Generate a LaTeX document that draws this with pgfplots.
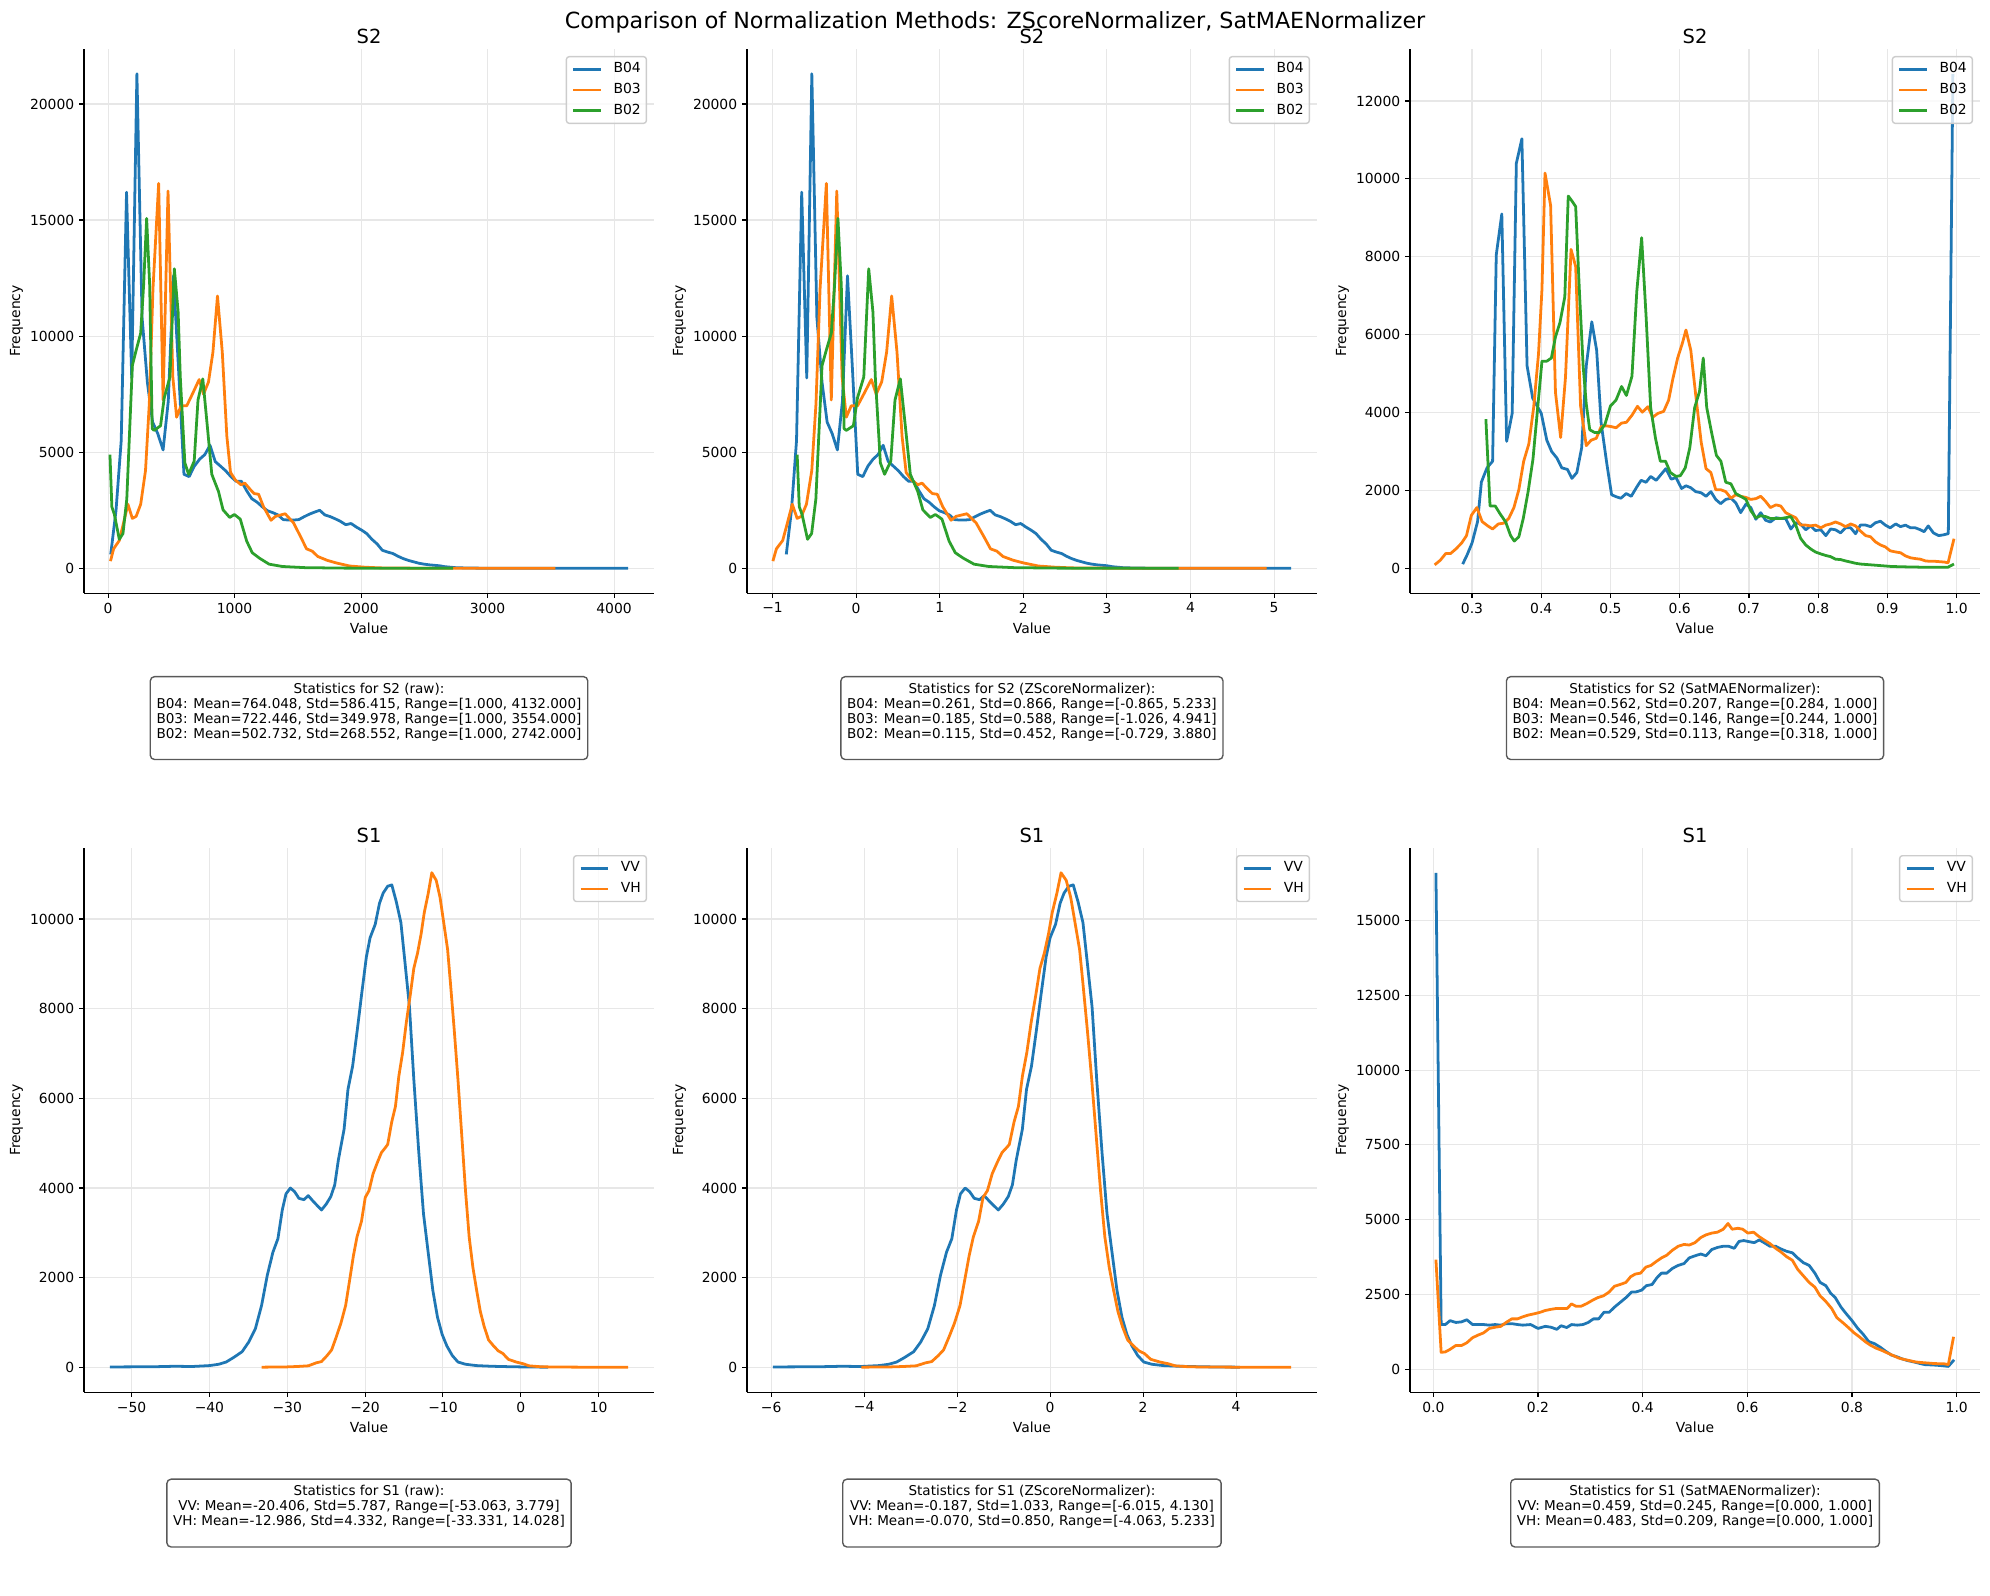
\documentclass[border=0pt]{standalone}
\usepackage{fontspec}
\setmainfont{DejaVu Sans}
\usepackage{pgfplots}
\usepackage{pgfplotstable}
\pgfplotsset{compat=1.18}

\definecolor{tabblue}{HTML}{1F77B4}
\definecolor{taborange}{HTML}{FF7F0E}
\definecolor{tabgreen}{HTML}{2CA02C}
\definecolor{gridgray}{RGB}{231,231,231}
\definecolor{legframe}{RGB}{204,204,204}

% ---------------- S2, raw values (bin centre, count) ----------------
\pgfplotstableread{
x y
21 600
63 2500
104 5500
146 16200
187 8200
228 21300
269 10800
311 8000
352 6300
393 5800
435 5100
476 7200
517 12600
558 8500
600 4050
641 3950
682 4400
724 4700
765 4900
806 5300
847 4600
889 4400
930 4200
971 3950
1012 3750
1054 3750
1095 3350
1136 3000
1178 2850
1219 2650
1260 2480
1302 2400
1343 2300
1384 2100
1425 2080
1467 2080
1508 2100
1549 2220
1590 2330
1632 2420
1673 2500
1714 2300
1755 2230
1797 2130
1838 2020
1879 1880
1921 1930
1962 1780
2003 1650
2044 1500
2086 1250
2127 1050
2168 780
2210 700
2251 640
2292 520
2333 420
2375 340
2416 280
2457 220
2498 180
2540 150
2581 130
2622 110
2663 70
2705 50
2746 30
2800 20
2900 10
3000 5
3500 1
4111 1
}\sTwoBfour

\pgfplotstableread{
x y
19 310
44 840
89 1200
120 1900
157 2760
192 2150
222 2240
258 2760
296 4210
326 7090
355 12030
400 16580
435 7250
474 16250
512 8240
542 6510
577 7000
622 7000
666 7500
720 8130
755 7500
794 8030
829 9310
865 11730
903 9310
939 5690
968 4130
1007 3800
1051 3600
1081 3670
1125 3390
1155 3220
1190 3190
1229 2650
1288 2070
1324 2240
1400 2350
1466 1960
1525 1330
1569 840
1614 740
1658 510
1732 345
1806 230
1910 100
2028 50
2147 20
2400 8
2800 3
3536 1
}\sTwoBthree

\pgfplotstableread{
x y
15 4900
30 2650
50 2320
89 1250
118 1500
148 2980
192 8730
222 9390
258 10130
281 12190
305 15070
329 12190
349 6020
364 5940
415 6140
444 7340
489 8240
524 12900
554 11040
571 8240
607 4540
637 4050
681 4620
711 7250
749 8160
785 6100
820 4050
873 3310
909 2520
962 2190
998 2320
1045 2120
1096 1170
1140 670
1199 430
1273 180
1377 80
1555 30
1850 10
2200 3
2728 1
}\sTwoBtwo

% ---------------- S2, SatMAE-normalised ----------------
\pgfplotstableread{
x y
0.2865 108
0.293 350
0.300 650
0.308 1200
0.3135 2215
0.3216 2580
0.3297 2750
0.335 8050
0.343 9100
0.350 3260
0.358 3980
0.364 10400
0.372 11030
0.3795 5200
0.3876 4370
0.400 3980
0.408 3290
0.415 3000
0.4227 2830
0.4297 2580
0.4378 2540
0.4443 2310
0.4514 2460
0.4584 3100
0.465 5200
0.473 6330
0.480 5600
0.4865 3730
0.4946 2700
0.5016 1890
0.508 1840
0.515 1800
0.5227 1920
0.530 1850
0.538 2090
0.5443 2260
0.5514 2210
0.558 2360
0.566 2260
0.573 2410
0.580 2560
0.5876 2290
0.5946 2330
0.6027 2050
0.609 2120
0.616 2070
0.623 1970
0.631 1940
0.638 1850
0.645 1970
0.652 1770
0.659 1660
0.6665 1770
0.674 1800
0.681 1680
0.688 1430
0.6957 1650
0.7027 1560
0.710 1260
0.717 1430
0.724 1235
0.731 1190
0.739 1300
0.746 1280
0.753 1280
0.7605 1010
0.7676 1170
0.7746 1140
0.782 990
0.789 1090
0.796 970
0.8038 990
0.811 840
0.818 1010
0.825 990
0.8324 910
0.8395 1040
0.847 1040
0.854 890
0.861 1110
0.8686 1110
0.8757 1070
0.8827 1170
0.890 1210
0.897 1110
0.904 1040
0.912 1140
0.919 1070
0.926 1110
0.9335 1040
0.9405 1040
0.9476 990
0.953 940
0.959 1090
0.9665 910
0.974 840
0.981 860
0.988 890
0.9946 12700
}\satBfour

\pgfplotstableread{
x y
0.246 90
0.254 205
0.262 380
0.269 380
0.2768 500
0.285 650
0.292 840
0.299 1360
0.307 1560
0.3146 1200
0.3227 1090
0.3297 1010
0.338 1140
0.346 1160
0.353 1280
0.3605 1560
0.3676 2020
0.3746 2750
0.382 3190
0.389 4130
0.396 5500
0.401 7160
0.4054 10150
0.4135 9320
0.4205 4520
0.428 3360
0.435 4910
0.443 8190
0.4497 7750
0.4568 4170
0.465 3150
0.472 3290
0.4795 3340
0.4865 3640
0.4935 3660
0.501 3640
0.508 3610
0.516 3730
0.523 3750
0.531 3930
0.539 4160
0.546 4010
0.554 4150
0.561 3880
0.5686 3980
0.5768 4030
0.584 4320
0.590 4860
0.597 5400
0.604 5790
0.609 6120
0.616 5600
0.623 4470
0.631 3240
0.638 2560
0.645 2460
0.652 2020
0.659 2020
0.6665 1970
0.674 1800
0.681 1890
0.688 1850
0.6957 1820
0.7027 1770
0.710 1790
0.717 1850
0.724 1720
0.731 1560
0.739 1630
0.746 1600
0.753 1430
0.7605 1360
0.7676 1300
0.7746 1110
0.782 1110
0.789 1090
0.796 1110
0.8038 1040
0.811 1110
0.818 1140
0.825 1190
0.8324 1140
0.8395 1070
0.847 1140
0.854 1090
0.861 960
0.8686 840
0.8757 810
0.8827 680
0.890 600
0.897 550
0.904 450
0.912 420
0.919 400
0.926 320
0.9335 270
0.9405 250
0.9476 235
0.955 190
0.962 180
0.969 180
0.9762 170
0.983 160
0.9876 140
0.9962 760
}\satBthree

\pgfplotstableread{
x y
0.320 3830
0.326 1600
0.3335 1600
0.3405 1400
0.3486 1190
0.3557 840
0.361 700
0.3676 810
0.374 1280
0.381 1970
0.388 2800
0.3946 4080
0.401 5320
0.408 5320
0.4146 5400
0.4205 5940
0.427 6310
0.434 6970
0.439 9560
0.444 9440
0.4497 9290
0.455 7160
0.4605 5200
0.465 4220
0.470 3560
0.4768 3490
0.4838 3490
0.492 3700
0.500 4170
0.508 4320
0.516 4670
0.523 4440
0.531 4930
0.538 7110
0.545 8490
0.5514 6480
0.558 4130
0.565 3340
0.572 2750
0.5795 2750
0.5865 2460
0.5946 2360
0.601 2380
0.608 2580
0.6146 3100
0.6216 4130
0.6286 4540
0.634 5400
0.639 4130
0.646 3490
0.653 2900
0.6595 2750
0.6665 2210
0.674 2170
0.681 1920
0.688 1850
0.6957 1770
0.7027 1480
0.710 1300
0.717 1350
0.724 1330
0.731 1280
0.739 1280
0.746 1280
0.753 1300
0.7605 1330
0.7676 1110
0.7746 770
0.782 600
0.789 500
0.796 420
0.8038 370
0.811 330
0.818 300
0.825 235
0.8324 225
0.8395 190
0.847 160
0.854 130
0.861 110
0.8757 90
0.890 70
0.904 50
0.919 40
0.9476 30
0.976 30
0.9876 30
0.9962 110
}\satBtwo

% ---------------- S1, raw values (dB) ----------------
\pgfplotstableread{
x y
-52.78 10
-50 12
-47 15
-44.5 25
-42.2 20
-40 40
-38.8 70
-37.85 120
-36.9 220
-35.8 350
-34.97 560
-34.1 860
-33.3 1380
-32.56 2060
-31.84 2570
-31.2 2870
-30.64 3510
-30.16 3870
-29.6 4000
-29.06 3920
-28.5 3770
-27.86 3740
-27.3 3830
-26.7 3710
-26.1 3600
-25.6 3510
-25.0 3640
-24.4 3810
-23.9 4070
-23.44 4620
-22.7 5310
-22.2 6200
-21.6 6720
-21.0 7530
-20.46 8300
-19.84 9150
-19.36 9580
-18.7 9880
-18.15 10350
-17.67 10580
-17.1 10730
-16.57 10760
-16.0 10390
-15.4 9920
-14.9 9070
-14.3 8040
-13.74 6420
-13.1 4790
-12.5 3430
-11.9 2570
-11.3 1720
-10.7 1120
-10.1 735
-9.5 480
-8.8 265
-8.07 120
-7.1 70
-5.7 40
-3.75 25
-1.35 15
1.05 8
3.5 5
}\sOneVV

\pgfplotstableread{
x y
-33.3 5
-30.2 10
-28.7 20
-27.3 35
-26.3 100
-25.6 130
-24.9 260
-24.3 390
-23.7 680
-23.1 990
-22.5 1380
-22.0 1930
-21.5 2490
-21.04 2910
-20.46 3260
-19.98 3790
-19.5 3940
-18.97 4320
-18.4 4580
-17.9 4790
-17.4 4900
-17.1 4970
-16.57 5480
-16.1 5820
-15.66 6500
-15.18 7020
-14.7 7700
-14.2 8300
-13.74 8900
-13.26 9240
-12.8 9670
-12.4 10140
-11.9 10560
-11.43 11030
-10.86 10860
-10.37 10480
-9.9 9920
-9.4 9320
-9.03 8560
-8.55 7530
-8.07 6420
-7.6 5220
-7.1 3940
-6.63 2910
-6.15 2230
-5.67 1720
-5.2 1250
-4.7 910
-4.13 610
-3.5 480
-2.9 370
-2.3 310
-1.6 180
-0.6 120
0.34 80
1.06 35
2.5 15
4.4 8
8.2 5
13.79 3
}\sOneVH

% ---------------- S1, SatMAE-normalised ----------------
\pgfplotstableread{
x y
0.005 16600
0.015 1490
0.023 1490
0.032 1620
0.043 1560
0.054 1580
0.064 1650
0.075 1490
0.086 1490
0.096 1490
0.107 1470
0.118 1490
0.129 1470
0.139 1520
0.150 1520
0.161 1490
0.171 1470
0.186 1490
0.200 1360
0.214 1430
0.225 1400
0.236 1330
0.244 1450
0.255 1390
0.264 1490
0.275 1470
0.286 1490
0.296 1560
0.306 1680
0.316 1680
0.326 1900
0.336 1900
0.346 2070
0.357 2230
0.368 2390
0.379 2580
0.387 2580
0.398 2640
0.407 2790
0.418 2830
0.427 3050
0.436 3210
0.446 3210
0.457 3370
0.468 3470
0.479 3530
0.489 3720
0.500 3790
0.511 3850
0.521 3790
0.532 4000
0.543 4070
0.554 4110
0.564 4110
0.575 4040
0.584 4270
0.593 4300
0.604 4260
0.613 4230
0.623 4320
0.632 4230
0.643 4110
0.654 4110
0.664 4020
0.675 3940
0.686 3890
0.696 3720
0.707 3560
0.718 3470
0.729 3210
0.739 2900
0.750 2790
0.759 2540
0.768 2390
0.779 2070
0.789 1850
0.800 1620
0.811 1360
0.821 1170
0.832 920
0.843 850
0.854 730
0.864 600
0.875 470
0.886 410
0.896 340
0.907 280
0.918 240
0.929 190
0.939 150
0.950 140
0.961 130
0.971 115
0.984 90
0.995 310
}\satVV

\pgfplotstableread{
x y
0.005 3660
0.015 560
0.023 575
0.032 660
0.043 790
0.054 790
0.064 880
0.075 1050
0.086 1140
0.096 1210
0.107 1360
0.118 1400
0.129 1430
0.139 1560
0.150 1680
0.161 1680
0.171 1750
0.182 1810
0.193 1850
0.204 1900
0.214 1960
0.225 2000
0.236 2030
0.246 2030
0.256 2030
0.264 2180
0.273 2100
0.282 2100
0.293 2190
0.304 2300
0.314 2390
0.325 2450
0.336 2580
0.346 2770
0.357 2830
0.368 2900
0.377 3090
0.386 3180
0.396 3210
0.406 3410
0.416 3470
0.426 3600
0.436 3720
0.446 3810
0.457 3980
0.468 4110
0.479 4170
0.489 4150
0.500 4230
0.511 4400
0.521 4490
0.532 4550
0.543 4580
0.554 4680
0.563 4870
0.571 4680
0.582 4710
0.591 4680
0.601 4550
0.612 4580
0.621 4450
0.632 4320
0.643 4200
0.654 4040
0.664 3920
0.675 3760
0.686 3640
0.696 3340
0.707 3120
0.718 2900
0.729 2740
0.739 2450
0.750 2260
0.761 2030
0.771 1720
0.782 1560
0.793 1390
0.804 1210
0.814 1080
0.825 920
0.836 790
0.846 700
0.857 625
0.868 535
0.879 450
0.889 370
0.900 320
0.911 280
0.921 240
0.932 220
0.943 205
0.954 190
0.964 180
0.975 180
0.984 150
0.994 1080
}\satVH

\pgfplotsset{
  panel/.style={
    scale only axis,
    width=410.4pt, height=391.7pt,
    anchor=north west,
    axis x line*=bottom, axis y line*=left,
    axis line style={line width=0.8pt, -},
    tick style={line width=0.8pt, black},
    tick align=outside,
    major tick length=3.5pt,
    scaled x ticks=false, scaled y ticks=false,
    grid=major,
    major grid style={gridgray, line width=0.8pt},
    tick label style={font=\fontsize{10}{12}\selectfont},
    xlabel={Value}, ylabel={Frequency},
    label style={font=\fontsize{10}{12}\selectfont},
    xlabel style={at={(axis description cs:0.5,-0.0646)}, anchor=center},
    ylabel style={at={(axis description cs:-0.1184,0.5)}, anchor=center},
    title style={font=\fontsize{14}{16.8}\selectfont, at={(axis description cs:0.5,1)}, anchor=base, yshift=-1.7pt},
    legend cell align=left,
    legend style={at={(axis description cs:1,1)}, anchor=north east,
      xshift=-5pt, yshift=-5pt, draw=legframe, line width=1pt,
      rounded corners=2pt, fill=white, fill opacity=0.8, text opacity=1,
      font=\fontsize{10}{12}\selectfont, inner sep=4pt, row sep=5pt,
      nodes={inner sep=0pt, text height=7.6pt, text depth=2.4pt},
      /tikz/every odd column/.append style={column sep=8pt}},
    legend image code/.code={\draw[#1] (0pt,0pt) -- (20pt,0pt);},
    every axis plot/.append style={line width=2pt, line join=round, mark=none},
    cycle list={{tabblue},{taborange},{tabgreen}},
  },
}
\tikzset{
  statbox/.style={anchor=north, draw=black!65, line width=1pt, rounded corners=3pt,
    fill=white, align=center, inner xsep=4.5pt, inner ysep=4.5pt,
    font=\fontsize{9.75}{10.8}\selectfont},
}

\begin{document}
\begin{tikzpicture}
\path[use as bounding box] (0pt,0pt) rectangle (1432.8pt,-1149.1pt);

% ---- S2 raw ----
\begin{axis}[panel, at={(60.5pt,-35.3pt)}, title={S2},
  xmin=-190, xmax=4316, ymin=-1065, ymax=22365,
  xtick={0,1000,2000,3000,4000}, xticklabels={0,1000,2000,3000,4000},
  ytick={0,5000,10000,15000,20000}, yticklabels={0,5000,10000,15000,20000}]
\addplot table[x=x, y=y] {\sTwoBfour};
\addplot table[x=x, y=y] {\sTwoBthree};
\addplot table[x=x, y=y] {\sTwoBtwo};
\legend{B04,B03,B02}
\end{axis}

% ---- S2 z-score ----
\begin{axis}[panel, at={(537.8pt,-35.3pt)}, title={S2},
  xmin=-1.306, xmax=5.512, ymin=-1065, ymax=22365,
  xtick={-1,0,1,2,3,4,5}, xticklabels={−1,0,1,2,3,4,5},
  ytick={0,5000,10000,15000,20000}, yticklabels={0,5000,10000,15000,20000}]
\addplot table[x expr={(\thisrow{x}-587)/677.4}, y=y] {\sTwoBfour};
\addplot table[x expr={(\thisrow{x}-611.9)/595.4}, y=y] {\sTwoBthree};
\addplot table[x expr={(\thisrow{x}-434.5)/594.7}, y=y] {\sTwoBtwo};
\legend{B04,B03,B02}
\end{axis}

% ---- S2 SatMAE ----
\begin{axis}[panel, at={(1015.2pt,-35.3pt)}, title={S2},
  xmin=0.2104, xmax=1.0338, ymin=-635, ymax=13335,
  xtick={0.3,0.4,0.5,0.6,0.7,0.8,0.9,1.0}, xticklabels={0.3,0.4,0.5,0.6,0.7,0.8,0.9,1.0},
  ytick={0,2000,4000,6000,8000,10000,12000}, yticklabels={0,2000,4000,6000,8000,10000,12000}]
\addplot table[x=x, y=y] {\satBfour};
\addplot table[x=x, y=y] {\satBthree};
\addplot table[x=x, y=y] {\satBtwo};
\legend{B04,B03,B02}
\end{axis}

% ---- S1 raw ----
\begin{axis}[panel, at={(60.5pt,-610.6pt)}, title={S1},
  xmin=-56.11, xmax=17.12, ymin=-551, ymax=11581,
  xtick={-50,-40,-30,-20,-10,0,10}, xticklabels={−50,−40,−30,−20,−10,0,10},
  ytick={0,2000,4000,6000,8000,10000}, yticklabels={0,2000,4000,6000,8000,10000}]
\addplot table[x=x, y=y] {\sOneVV};
\addplot table[x=x, y=y] {\sOneVH};
\legend{VV,VH}
\end{axis}

% ---- S1 z-score ----
\begin{axis}[panel, at={(537.8pt,-610.6pt)}, title={S1},
  xmin=-6.52, xmax=5.74, ymin=-551, ymax=11581,
  xtick={-6,-4,-2,0,2,4}, xticklabels={−6,−4,−2,0,2,4},
  ytick={0,2000,4000,6000,8000,10000}, yticklabels={0,2000,4000,6000,8000,10000}]
\addplot table[x expr={(\thisrow{x}+19.36)/5.603}, y=y] {\sOneVV};
\addplot table[x expr={(\thisrow{x}+12.631)/5.0946}, y=y] {\sOneVH};
\legend{VV,VH}
\end{axis}

% ---- S1 SatMAE ----
\begin{axis}[panel, at={(1015.2pt,-610.6pt)}, title={S1},
  xmin=-0.0445, xmax=1.0445, ymin=-770, ymax=17430,
  xtick={0,0.2,0.4,0.6,0.8,1.0}, xticklabels={0.0,0.2,0.4,0.6,0.8,1.0},
  ytick={0,2500,5000,7500,10000,12500,15000}, yticklabels={0,2500,5000,7500,10000,12500,15000}]
\addplot table[x=x, y=y] {\satVV};
\addplot table[x=x, y=y] {\satVH};
\legend{VV,VH}
\end{axis}

% figure title, drawn last so it sits on top of the middle panel title
\node[anchor=base, font=\fontsize{16}{19}\selectfont] at (716.4pt,-20.5pt)
  {Comparison of Normalization Methods: ZScoreNormalizer, SatMAENormalizer};

% ---- statistics boxes ----
\node[statbox] at (265.7pt,-486.7pt) {Statistics for S2 (raw):\\
B04: Mean=764.048, Std=586.415, Range=[1.000, 4132.000]\\
B03: Mean=722.446, Std=349.978, Range=[1.000, 3554.000]\\
B02: Mean=502.732, Std=268.552, Range=[1.000, 2742.000]\\ \mbox{}};
\node[statbox] at (743.0pt,-486.7pt) {Statistics for S2 (ZScoreNormalizer):\\
B04: Mean=0.261, Std=0.866, Range=[-0.865, 5.233]\\
B03: Mean=0.185, Std=0.588, Range=[-1.026, 4.941]\\
B02: Mean=0.115, Std=0.452, Range=[-0.729, 3.880]\\ \mbox{}};
\node[statbox] at (1220.4pt,-486.7pt) {Statistics for S2 (SatMAENormalizer):\\
B04: Mean=0.562, Std=0.207, Range=[0.284, 1.000]\\
B03: Mean=0.546, Std=0.146, Range=[0.244, 1.000]\\
B02: Mean=0.529, Std=0.113, Range=[0.318, 1.000]\\ \mbox{}};
\node[statbox] at (265.7pt,-1064.5pt) {Statistics for S1 (raw):\\
VV: Mean=-20.406, Std=5.787, Range=[-53.063, 3.779]\\
VH: Mean=-12.986, Std=4.332, Range=[-33.331, 14.028]\\ \mbox{}};
\node[statbox] at (743.0pt,-1064.5pt) {Statistics for S1 (ZScoreNormalizer):\\
VV: Mean=-0.187, Std=1.033, Range=[-6.015, 4.130]\\
VH: Mean=-0.070, Std=0.850, Range=[-4.063, 5.233]\\ \mbox{}};
\node[statbox] at (1220.4pt,-1064.5pt) {Statistics for S1 (SatMAENormalizer):\\
VV: Mean=0.459, Std=0.245, Range=[0.000, 1.000]\\
VH: Mean=0.483, Std=0.209, Range=[0.000, 1.000]\\ \mbox{}};
\end{tikzpicture}
\end{document}
